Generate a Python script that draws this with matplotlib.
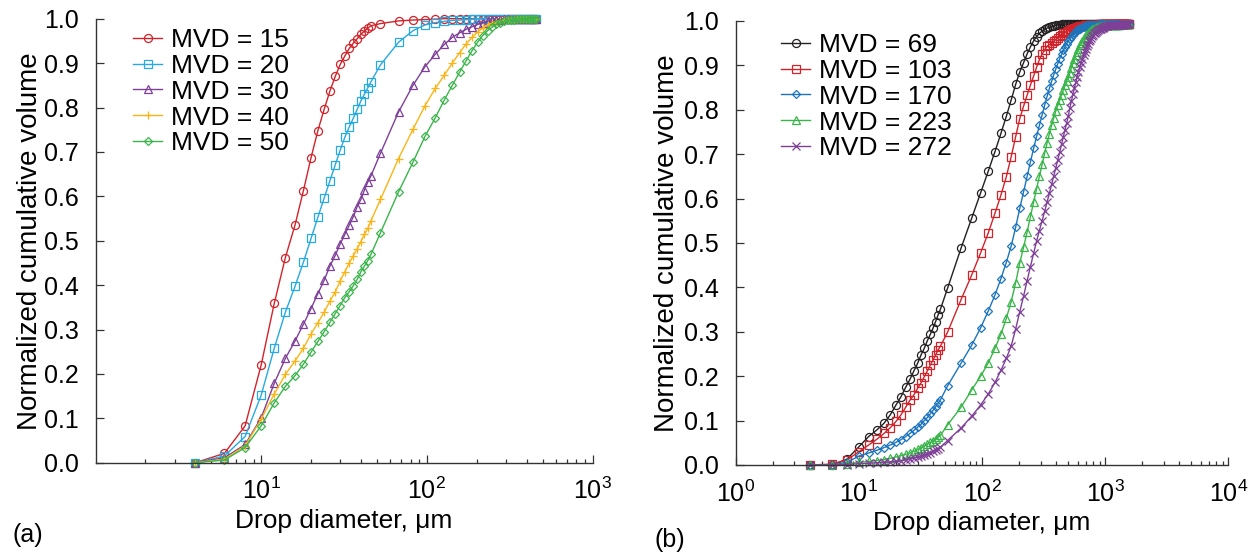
import numpy as np
import matplotlib.pyplot as plt

plt.rcParams['font.family'] = ['Liberation Sans', 'DejaVu Sans']
plt.rcParams['mathtext.default'] = 'regular'

# drop diameter bins (um), shared by every curve
d_small = [4, 6, 8, 10, 12, 14, 16, 18, 20, 22, 24,
           26, 28, 30, 32, 34, 36, 38, 40, 42, 44, 46]
d_mid = [52.5, 67.5, 82.5, 97.5, 112.5, 127.5, 142.5, 157.5, 172.5, 187.5,
         202.5, 217.5, 232.5, 247.5, 262.5, 277.5, 292.5, 307.5, 322.5, 337.5,
         352.5, 367.5, 382.5, 397.5, 412.5, 427.5, 442.5, 457.5]
d_big = [472.5, 487.5, 502.5, 517.5, 532.5, 547.5, 562.5, 577.5, 592.5, 607.5,
         622.5, 637.5, 652.5, 667.5, 682.5, 697.5, 712.5, 727.5, 742.5, 757.5,
         772.5, 787.5, 802.5, 817.5, 832.5, 847.5, 862.5, 877.5, 892.5, 907.5,
         922.5, 937.5, 952.5, 967.5, 982.5, 997.5, 1012.5, 1027.5, 1042.5, 1057.5,
         1072.5, 1087.5, 1102.5, 1117.5, 1132.5, 1147.5, 1162.5, 1177.5, 1192.5, 1207.5,
         1222.5, 1237.5, 1252.5, 1267.5, 1282.5, 1297.5, 1312.5, 1327.5, 1342.5, 1357.5,
         1372.5, 1387.5, 1402.5, 1417.5, 1432.5, 1447.5, 1462.5, 1477.5, 1492.5, 1507.5,
         1522.5, 1537.5, 1552.5, 1567.5]

diam_a = d_small + d_mid
diam_b = d_small + d_mid + d_big

# (a) small MVD
vol_15 = [0.0, 0.021, 0.083, 0.220, 0.359, 0.462, 0.535, 0.613, 0.687, 0.748, 0.796,
          0.837, 0.870, 0.897, 0.916, 0.933, 0.945, 0.955, 0.965, 0.972, 0.979, 0.984,
          0.989, 0.995, 0.997, 0.998, 0.999, 1.0, 1.0, 1.0, 1.0, 1.0,
          1.0, 1.0, 1.0, 1.0, 1.0, 1.0, 1.0, 1.0, 1.0, 1.0,
          1.0, 1.0, 1.0, 1.0, 1.0, 1.0, 1.0, 1.0]
vol_20 = [0.0, 0.015, 0.059, 0.152, 0.258, 0.339, 0.397, 0.452, 0.505, 0.553, 0.596,
          0.635, 0.671, 0.704, 0.733, 0.756, 0.776, 0.796, 0.815, 0.830, 0.844, 0.858,
          0.896, 0.947, 0.973, 0.986, 0.991, 0.994, 0.996, 0.997, 0.998, 0.999,
          1.0, 1.0, 1.0, 1.0, 1.0, 1.0, 1.0, 1.0, 1.0, 1.0,
          1.0, 1.0, 1.0, 1.0, 1.0, 1.0, 1.0, 1.0]
vol_30 = [0.0, 0.011, 0.041, 0.101, 0.179, 0.235, 0.274, 0.312, 0.347, 0.381, 0.411,
          0.443, 0.467, 0.493, 0.514, 0.535, 0.554, 0.577, 0.593, 0.614, 0.632, 0.646,
          0.697, 0.790, 0.850, 0.892, 0.920, 0.942, 0.958, 0.968, 0.976, 0.982,
          0.987, 0.991, 0.994, 0.996, 0.997, 0.998, 0.999, 1.0, 1.0, 1.0,
          1.0, 1.0, 1.0, 1.0, 1.0, 1.0, 1.0, 1.0]
vol_40 = [0.0, 0.008, 0.038, 0.098, 0.155, 0.199, 0.229, 0.258, 0.290, 0.315, 0.339,
          0.364, 0.384, 0.410, 0.430, 0.450, 0.466, 0.482, 0.498, 0.514, 0.528, 0.545,
          0.593, 0.685, 0.751, 0.804, 0.843, 0.873, 0.900, 0.923, 0.943, 0.958,
          0.970, 0.979, 0.985, 0.990, 0.993, 0.995, 0.997, 0.998, 0.999, 1.0,
          1.0, 1.0, 1.0, 1.0, 1.0, 1.0, 1.0, 1.0]
vol_50 = [0.0, 0.006, 0.034, 0.083, 0.135, 0.172, 0.196, 0.222, 0.249, 0.273, 0.295,
          0.316, 0.336, 0.354, 0.372, 0.385, 0.399, 0.413, 0.430, 0.443, 0.455, 0.469,
          0.518, 0.610, 0.677, 0.735, 0.777, 0.817, 0.850, 0.879, 0.905, 0.928,
          0.947, 0.962, 0.973, 0.981, 0.987, 0.991, 0.994, 0.996, 0.997, 0.998,
          0.999, 1.0, 1.0, 1.0, 1.0, 1.0, 1.0, 1.0]

# (b) large MVD
vol_69 = [0.0, 0.0, 0.013, 0.041, 0.064, 0.079, 0.094, 0.113, 0.135, 0.154, 0.175,
          0.193, 0.212, 0.229, 0.248, 0.263, 0.280, 0.294, 0.308, 0.323, 0.338, 0.351,
          0.398, 0.488, 0.556, 0.613, 0.662, 0.706, 0.747, 0.785, 0.822, 0.857,
          0.885, 0.906, 0.926, 0.942, 0.955, 0.965, 0.972, 0.977, 0.981, 0.984,
          0.986, 0.988, 0.989, 0.990, 0.991, 0.992, 0.993, 0.993, 0.993, 0.993,
          0.993, 0.993, 0.993, 0.993, 0.993, 0.993, 0.993, 0.993, 0.993, 0.993,
          0.993, 0.993, 0.993, 0.993, 0.993, 0.993, 0.993, 0.993, 0.993, 0.993,
          0.993, 0.993, 0.993, 0.993, 0.993, 0.993, 0.993, 0.993, 0.993, 0.993,
          0.993, 0.993, 0.993, 0.993, 0.993, 0.993, 0.993, 0.993, 0.993, 0.993,
          0.993, 0.993, 0.993, 0.993, 0.993, 0.993, 0.993, 0.993, 0.993, 0.993,
          0.993, 0.993, 0.993, 0.993, 0.993, 0.993, 0.993, 0.993, 0.993, 0.993,
          0.993, 0.993, 0.993, 0.993, 0.993, 0.993, 0.993, 0.993, 0.993, 0.993,
          0.993, 0.993]
vol_103 = [0.0, 0.002, 0.011, 0.030, 0.045, 0.058, 0.071, 0.084, 0.098, 0.113, 0.130,
           0.146, 0.158, 0.173, 0.185, 0.199, 0.212, 0.225, 0.236, 0.248, 0.259, 0.268,
           0.299, 0.372, 0.428, 0.478, 0.523, 0.567, 0.608, 0.649, 0.694, 0.739,
           0.780, 0.808, 0.833, 0.856, 0.876, 0.896, 0.913, 0.925, 0.935, 0.943,
           0.947, 0.951, 0.955, 0.958, 0.962, 0.966, 0.969, 0.972, 0.974, 0.976,
           0.978, 0.980, 0.981, 0.982, 0.984, 0.985, 0.986, 0.987, 0.988, 0.988,
           0.989, 0.989, 0.990, 0.990, 0.990, 0.991, 0.991, 0.991, 0.992, 0.992,
           0.992, 0.992, 0.992, 0.992, 0.992, 0.992, 0.993, 0.993, 0.993, 0.993,
           0.993, 0.993, 0.993, 0.993, 0.993, 0.993, 0.993, 0.993, 0.993, 0.993,
           0.993, 0.993, 0.993, 0.993, 0.993, 0.993, 0.993, 0.993, 0.993, 0.993,
           0.993, 0.993, 0.993, 0.993, 0.993, 0.993, 0.993, 0.993, 0.993, 0.993,
           0.993, 0.993, 0.993, 0.993, 0.993, 0.993, 0.993, 0.993, 0.993, 0.993,
           0.993, 0.993]
vol_170 = [0.0, 0.0, 0.006, 0.020, 0.027, 0.033, 0.039, 0.045, 0.051, 0.057, 0.064,
           0.071, 0.078, 0.085, 0.092, 0.100, 0.107, 0.115, 0.123, 0.131, 0.139, 0.147,
           0.178, 0.229, 0.270, 0.309, 0.347, 0.383, 0.420, 0.456, 0.493, 0.535,
           0.578, 0.615, 0.650, 0.683, 0.713, 0.740, 0.765, 0.788, 0.810, 0.830,
           0.848, 0.864, 0.879, 0.892, 0.904, 0.915, 0.925, 0.934, 0.942, 0.949,
           0.955, 0.960, 0.965, 0.969, 0.973, 0.976, 0.979, 0.981, 0.983, 0.985,
           0.986, 0.987, 0.988, 0.989, 0.990, 0.990, 0.991, 0.991, 0.992, 0.992,
           0.992, 0.992, 0.992, 0.992, 0.992, 0.992, 0.993, 0.993, 0.993, 0.993,
           0.993, 0.993, 0.993, 0.993, 0.993, 0.993, 0.993, 0.993, 0.993, 0.993,
           0.993, 0.993, 0.993, 0.993, 0.993, 0.993, 0.993, 0.993, 0.993, 0.993,
           0.993, 0.993, 0.993, 0.993, 0.993, 0.993, 0.993, 0.993, 0.993, 0.993,
           0.993, 0.993, 0.993, 0.993, 0.993, 0.993, 0.993, 0.993, 0.993, 0.993,
           0.993, 0.993]
vol_223 = [0.0, 0.0, 0.002, 0.006, 0.008, 0.010, 0.012, 0.015, 0.018, 0.021, 0.024,
           0.027, 0.031, 0.035, 0.039, 0.043, 0.047, 0.051, 0.055, 0.059, 0.063, 0.067,
           0.090, 0.130, 0.169, 0.200, 0.230, 0.263, 0.295, 0.330, 0.368, 0.410,
           0.455, 0.490, 0.525, 0.560, 0.592, 0.622, 0.650, 0.677, 0.702, 0.725,
           0.746, 0.765, 0.782, 0.797, 0.810, 0.822, 0.834, 0.845, 0.855, 0.865,
           0.874, 0.884, 0.895, 0.905, 0.914, 0.923, 0.931, 0.938, 0.945, 0.951,
           0.956, 0.961, 0.965, 0.968, 0.971, 0.974, 0.976, 0.978, 0.980, 0.981,
           0.982, 0.983, 0.984, 0.985, 0.986, 0.987, 0.987, 0.988, 0.988, 0.989,
           0.989, 0.989, 0.990, 0.990, 0.990, 0.991, 0.991, 0.991, 0.991, 0.991,
           0.991, 0.991, 0.991, 0.991, 0.991, 0.992, 0.992, 0.992, 0.992, 0.992,
           0.992, 0.992, 0.992, 0.992, 0.992, 0.993, 0.993, 0.993, 0.993, 0.993,
           0.993, 0.993, 0.993, 0.993, 0.993, 0.993, 0.993, 0.993, 0.993, 0.993,
           0.993, 0.993]
vol_272 = [0.0, 0.0, 0.001, 0.003, 0.004, 0.005, 0.006, 0.007, 0.008, 0.010, 0.012,
           0.014, 0.016, 0.018, 0.020, 0.022, 0.025, 0.028, 0.031, 0.034, 0.037, 0.040,
           0.055, 0.083, 0.110, 0.135, 0.160, 0.186, 0.213, 0.240, 0.268, 0.306,
           0.345, 0.380, 0.415, 0.447, 0.477, 0.504, 0.528, 0.550, 0.571, 0.592,
           0.612, 0.632, 0.651, 0.669, 0.687, 0.705, 0.722, 0.739, 0.755, 0.771,
           0.786, 0.805, 0.820, 0.835, 0.849, 0.862, 0.874, 0.885, 0.896, 0.906,
           0.915, 0.923, 0.930, 0.937, 0.943, 0.949, 0.954, 0.958, 0.962, 0.966,
           0.969, 0.972, 0.974, 0.976, 0.978, 0.980, 0.981, 0.982, 0.983, 0.984,
           0.985, 0.986, 0.987, 0.988, 0.988, 0.989, 0.989, 0.990, 0.990, 0.990,
           0.991, 0.991, 0.991, 0.991, 0.991, 0.991, 0.991, 0.991, 0.991, 0.991,
           0.992, 0.992, 0.992, 0.992, 0.992, 0.992, 0.992, 0.992, 0.992, 0.992,
           0.993, 0.993, 0.993, 0.993, 0.993, 0.993, 0.993, 0.993, 0.993, 0.993,
           0.993, 0.993]

series_a = [(vol_15, 'MVD = 15', '#d2232a', 'o'),
            (vol_20, 'MVD = 20', '#27aae1', 's'),
            (vol_30, 'MVD = 30', '#7f3f98', '^'),
            (vol_40, 'MVD = 40', '#fbb416', '+'),
            (vol_50, 'MVD = 50', '#3ab54a', 'D')]
series_b = [(vol_69, 'MVD = 69', '#231f20', 'o'),
            (vol_103, 'MVD = 103', '#d2232a', 's'),
            (vol_170, 'MVD = 170', '#1c75bc', 'D'),
            (vol_223, 'MVD = 223', '#39b54a', '^'),
            (vol_272, 'MVD = 272', '#7f3f98', 'x')]

y_ticks = [0.0, 0.1, 0.2, 0.3, 0.4, 0.5, 0.6, 0.7, 0.8, 0.9, 1.0]
FS = 18

fig = plt.figure(figsize=(12.6, 5.56), dpi=100)
ax1 = fig.add_axes([95.5 / 1260, 1 - 462.7 / 556, 497 / 1260, 444 / 556])
ax2 = fig.add_axes([735.7 / 1260, 1 - 465 / 556, 492.6 / 1260, 444 / 556])


def draw(ax, diam, series, xmax, xticks, ylab_pad):
    for vals, lab, col, mk in series:
        size = 4.3 if mk == 'D' else 5.8
        ax.plot(diam, vals, color=col, lw=1.0, marker=mk, ms=size, mfc='none',
                mec=col, mew=0.9, label=lab, clip_on=False)
    ax.set_xscale('log')
    ax.set_xlim(1, xmax)
    ax.set_ylim(0, 1)
    ax.set_xticks(xticks)
    ax.set_yticks(y_ticks)
    ax.set_yticklabels(['%.1f' % t for t in y_ticks])
    for s in ['top', 'right']:
        ax.spines[s].set_visible(False)
    for s in ['left', 'bottom']:
        ax.spines[s].set_color('#333333')
        ax.spines[s].set_linewidth(1.0)
    ax.tick_params(which='both', direction='in', color='#333333', width=0.9)
    ax.tick_params(which='major', length=6, labelsize=FS)
    ax.tick_params(which='minor', length=3)
    ax.tick_params(axis='y', pad=12)
    ax.tick_params(axis='x', pad=11)
    ax.set_xlabel('Drop diameter, μm', fontsize=FS + 1, labelpad=3)
    ax.set_ylabel('Normalized cumulative volume', fontsize=FS + 2, labelpad=ylab_pad)


draw(ax1, diam_a, series_a, 1000, [10, 100, 1000], 1)
draw(ax2, diam_b, series_b, 10000, [1, 10, 100, 1000, 10000], 3)

ax1.legend(loc='upper left', bbox_to_anchor=(133 / 1260, 1 - 28 / 556),
           bbox_transform=fig.transFigure, frameon=False, fontsize=FS + 1,
           handlelength=1.1, handletextpad=0.35, labelspacing=0.07,
           borderpad=0, borderaxespad=0)
ax2.legend(loc='upper left', bbox_to_anchor=(781 / 1260, 1 - 33 / 556),
           bbox_transform=fig.transFigure, frameon=False, fontsize=FS + 1,
           handlelength=1.1, handletextpad=0.35, labelspacing=0.07,
           borderpad=0, borderaxespad=0)

fig.text(12 / 1260, 1 - 535 / 556, '(a)', fontsize=FS, va='center')
fig.text(655 / 1260, 1 - 540 / 556, '(b)', fontsize=FS, va='center')

fig.savefig('out.png', dpi=100)
